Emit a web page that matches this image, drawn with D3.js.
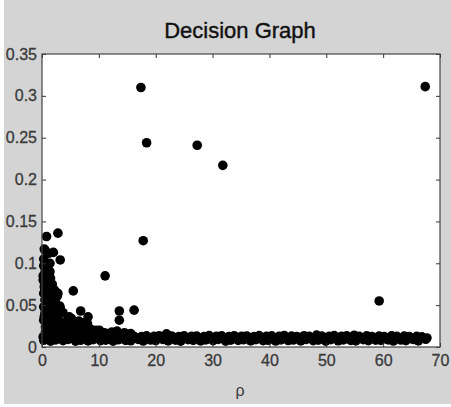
<!DOCTYPE html>
<html><head><meta charset="utf-8">
<script src="https://cdn.jsdelivr.net/npm/d3@7/dist/d3.min.js"></script>
<style>body{margin:0;background:#fff}</style>
</head><body>
<script>
// ---- data ----
const titleText = "Decision Graph";
const xLabel = "ρ";
const xTicks = [0, 10, 20, 30, 40, 50, 60, 70];
const yTicks = [0, 0.05, 0.1, 0.15, 0.2, 0.25, 0.3, 0.35];
const yTickLabels = ["0", "0.05", "0.1", "0.15", "0.2", "0.25", "0.3", "0.35"];

// isolated high-delta points (cluster centres)
const outlierRho   = [17.4, 67.4, 18.4, 27.3, 31.8, 17.8, 59.3];
const outlierDelta = [0.310, 0.311, 0.244, 0.241, 0.217, 0.127, 0.055];

// scattered mid points
const midRho   = [2.8, 0.8, 0.5, 2.0, 3.2, 1.4, 11.1, 5.5, 3.2, 6.8, 13.6, 16.2, 13.6, 4.8, 8.1, 0.4, 1.2, 0.3, 2.8];
const midDelta = [0.136, 0.132, 0.116, 0.113, 0.104, 0.100, 0.085, 0.067, 0.047, 0.043, 0.043, 0.044, 0.032, 0.036, 0.036, 0.117, 0.112, 0.105, 0.064];

// dense cluster near the origin
const clusterRho   = [0.3,1.0,0.5,1.3,0.2,0.8,1.5,0.4,1.1,1.8,0.3,0.9,1.6,2.2,0.5,1.2,2.0,2.7,0.3,1.0,1.7,2.4,3.1,0.5,1.3,2.1,2.9,3.7,0.3,1.1,1.9,2.6,3.4,4.3,5.2,0.6,1.4,2.3,3.2,4.0,4.9,5.8,6.7,7.6,8.6,9.5,
                      0.6,1.4,0.2,0.7,1.3,2.0,0.5,1.6,2.4,0.8,1.9,2.5,3.0,0.4,1.5,2.6,3.5,4.5,5.5,6.5,7.2,8.0,2.5,3.6,4.8,5.9,7.0,3.8,5.0,6.2,9.0,10.5,12.0];
const clusterDelta = [0.097,0.094,0.088,0.086,0.080,0.078,0.082,0.072,0.070,0.075,0.064,0.062,0.066,0.068,0.056,0.054,0.058,0.061,0.048,0.046,0.050,0.052,0.049,0.040,0.039,0.042,0.038,0.041,0.032,0.031,0.033,0.030,0.029,0.031,0.034,0.024,0.023,0.025,0.022,0.024,0.026,0.028,0.026,0.024,0.021,0.020,
                      0.091,0.090,0.085,0.083,0.074,0.066,0.069,0.063,0.058,0.052,0.045,0.044,0.040,0.036,0.037,0.034,0.026,0.027,0.030,0.031,0.029,0.028,0.027,0.023,0.021,0.022,0.021,0.017,0.016,0.015,0.016,0.015,0.016];

// low band, lower row
const bandARho   = [0.3,1.5,2.4,3.7,4.6,5.9,6.8,8.1,9.0,10.3,11.2,12.5,13.4,14.7,15.6,16.9,17.8,19.1,20.0,21.3,22.2,23.5,24.4,25.7,26.6,27.9,28.8,30.1,31.0,32.3,33.2,34.5,35.4,36.7,37.6,38.9,39.8,41.1,42.0,43.3,44.2,45.5,46.4,47.7,48.6,49.9,50.8,52.1,53.0,54.3,55.2,56.5,57.4,58.7,59.6,60.9,61.8,63.1,64.0,65.3,66.2,67.5];
const bandADelta = [0.008,0.007,0.0085,0.0075,0.009,0.007,0.008,0.0072,0.0088,0.0076,0.0082,0.007,0.0086,0.0078,0.0074,0.009,0.0071,0.0083,0.0077,0.0089,0.0073,0.0081,0.0069,0.0087,0.0079,0.0072,0.0084,0.0076,0.009,0.007,0.0082,0.0078,0.0086,0.0073,0.0088,0.0075,0.008,0.0071,0.0085,0.0077,0.0083,0.0072,0.0089,0.0076,0.0081,0.007,0.0087,0.0074,0.0084,0.0079,0.0072,0.0088,0.0075,0.0082,0.0078,0.0085,0.0071,0.0083,0.0076,0.0089,0.0073,0.0092];

// low band, middle row
const bandDRho   = [1.2,2.7,3.9,5.0,6.2,7.2,8.4,9.4,10.6,11.6,12.8,13.8,15.0,16.0,17.2,18.1,19.4,20.3,21.6,22.5,23.8,24.7,26.0,26.9,28.2,29.1,30.4,31.3,32.6,33.5,34.8,35.7,37.0,37.9,39.2,40.1,41.4,42.3,43.6,44.5,45.8,46.7,48.0,48.9,50.2,51.1,52.4,53.3,54.6,55.5,56.8,57.7,59.0,59.9,61.2,62.1,63.4,64.3,65.6,66.5,67.7];
const bandDDelta = [0.0108,0.0102,0.011,0.0104,0.0112,0.0099,0.0107,0.0103,0.0111,0.01,0.0106,0.0109,0.0101,0.0105,0.0098,0.0108,0.0103,0.0112,0.0114,0.0104,0.0107,0.0099,0.011,0.0102,0.0106,0.0109,0.01,0.0104,0.0108,0.0101,0.0111,0.0103,0.0106,0.0099,0.0109,0.0104,0.0107,0.0102,0.011,0.0105,0.01,0.0108,0.0112,0.0103,0.0106,0.0101,0.0109,0.0104,0.0111,0.0102,0.0107,0.0105,0.0099,0.0108,0.0103,0.011,0.0101,0.0106,0.0104,0.0102,0.0108];

// low band, upper row
const bandBRho   = [0.9,2.1,3.0,4.3,5.2,6.5,7.4,8.7,9.6,10.9,11.8,13.1,14.0,15.3,16.2,17.5,18.4,19.7,20.6,21.9,22.8,24.1,25.0,26.3,27.2,28.5,29.4,30.7,31.6,32.9,33.8,35.1,36.0,37.3,38.2,39.5,40.4,41.7,42.6,43.9,44.8,46.1,47.0,48.3,49.2,50.5,51.4,52.7,53.6,54.9,55.8,57.1,58.0,59.3,60.2,61.5,62.4,63.7,64.6,65.9,66.8];
const bandBDelta = [0.013,0.0135,0.014,0.0128,0.015,0.0132,0.0145,0.0126,0.0138,0.0131,0.0142,0.0127,0.0136,0.013,0.0128,0.0124,0.0133,0.0127,0.0135,0.0158,0.0132,0.0126,0.0134,0.0128,0.0131,0.0124,0.0136,0.0129,0.0133,0.0126,0.0135,0.0128,0.0132,0.0125,0.0137,0.0129,0.0134,0.0127,0.0138,0.0131,0.0126,0.0135,0.0128,0.0142,0.0132,0.0127,0.0136,0.0129,0.0133,0.0141,0.0128,0.0134,0.0126,0.0132,0.0125,0.0133,0.0127,0.0131,0.0124,0.0128,0.0122];

// thicker part of the band
const bandCRho   = [4.5,5.7,6.6,7.9,8.8,10.1,11.0,12.3,13.2,14.5,15.6,0.2,0.6,1.2,2.0,3.0];
const bandCDelta = [0.019,0.020,0.021,0.019,0.018,0.020,0.017,0.018,0.019,0.017,0.016,0.012,0.018,0.016,0.017,0.018];

// ---- drawing ----
const W = 451, H = 407;
const FONT = "'Liberation Sans', Arial, sans-serif";
const svg = d3.select("body").append("svg").attr("width", W).attr("height", H)
  .style("font-family", FONT);

svg.append("rect").attr("x", 4).attr("y", 0).attr("width", W - 4).attr("height", H - 3).attr("fill", "#d4d4d4");

const m = { l: 42, r: 440, t: 54, b: 347 };
const x = d3.scaleLinear().domain([0, 70]).range([m.l, m.r]);
const y = d3.scaleLinear().domain([0, 0.35]).range([m.b, m.t]);

svg.append("rect").attr("x", m.l).attr("y", m.t).attr("width", m.r - m.l).attr("height", m.b - m.t).attr("fill", "#fff");

const zip = (a, b) => a.map((v, i) => [v, b[i]]);
const pts = [].concat(
  zip(bandARho, bandADelta), zip(bandDRho, bandDDelta), zip(bandBRho, bandBDelta), zip(bandCRho, bandCDelta),
  zip(clusterRho, clusterDelta), zip(midRho, midDelta), zip(outlierRho, outlierDelta)
);

svg.append("g").selectAll("circle").data(pts).join("circle")
  .attr("cx", d => x(d[0])).attr("cy", d => y(d[1])).attr("r", 4.8).attr("fill", "#000");

const styleAxis = g => {
  g.select(".domain").remove();
  g.selectAll("line").attr("stroke", "#333");
  g.selectAll("text").attr("fill", "#3a3a3a").attr("stroke", "#3a3a3a").attr("stroke-width", 0.3)
    .style("font-size", "16px").style("font-family", FONT);
};

svg.append("g").attr("transform", `translate(0,${m.b})`)
  .call(d3.axisBottom(x).tickValues(xTicks).tickSizeInner(-4).tickSizeOuter(0).tickPadding(8).tickFormat(d3.format("d")))
  .call(styleAxis);
svg.append("g").attr("transform", `translate(0,${m.t})`)
  .call(d3.axisTop(x).tickValues(xTicks).tickSizeInner(-4).tickSizeOuter(0).tickFormat(""))
  .call(styleAxis);
svg.append("g").attr("transform", `translate(${m.l},0)`)
  .call(d3.axisLeft(y).tickValues(yTicks).tickSizeInner(-4).tickSizeOuter(0).tickPadding(5).tickFormat((d, i) => yTickLabels[i]))
  .call(styleAxis);
svg.append("g").attr("transform", `translate(${m.r},0)`)
  .call(d3.axisRight(y).tickValues(yTicks).tickSizeInner(-4).tickSizeOuter(0).tickFormat(""))
  .call(styleAxis);

svg.append("rect").attr("x", m.l).attr("y", m.t).attr("width", m.r - m.l).attr("height", m.b - m.t)
  .attr("fill", "none").attr("stroke", "#444").attr("stroke-width", 1.2);

svg.append("text").attr("x", 240).attr("y", 38).attr("text-anchor", "middle")
  .style("font-size", "22px").attr("fill", "#111").attr("stroke", "#111").attr("stroke-width", 0.4).text(titleText);
svg.append("text").attr("x", 240).attr("y", 396).attr("text-anchor", "middle")
  .style("font-size", "16px").attr("fill", "#3a3a3a").text(xLabel);
</script>
</body></html>
